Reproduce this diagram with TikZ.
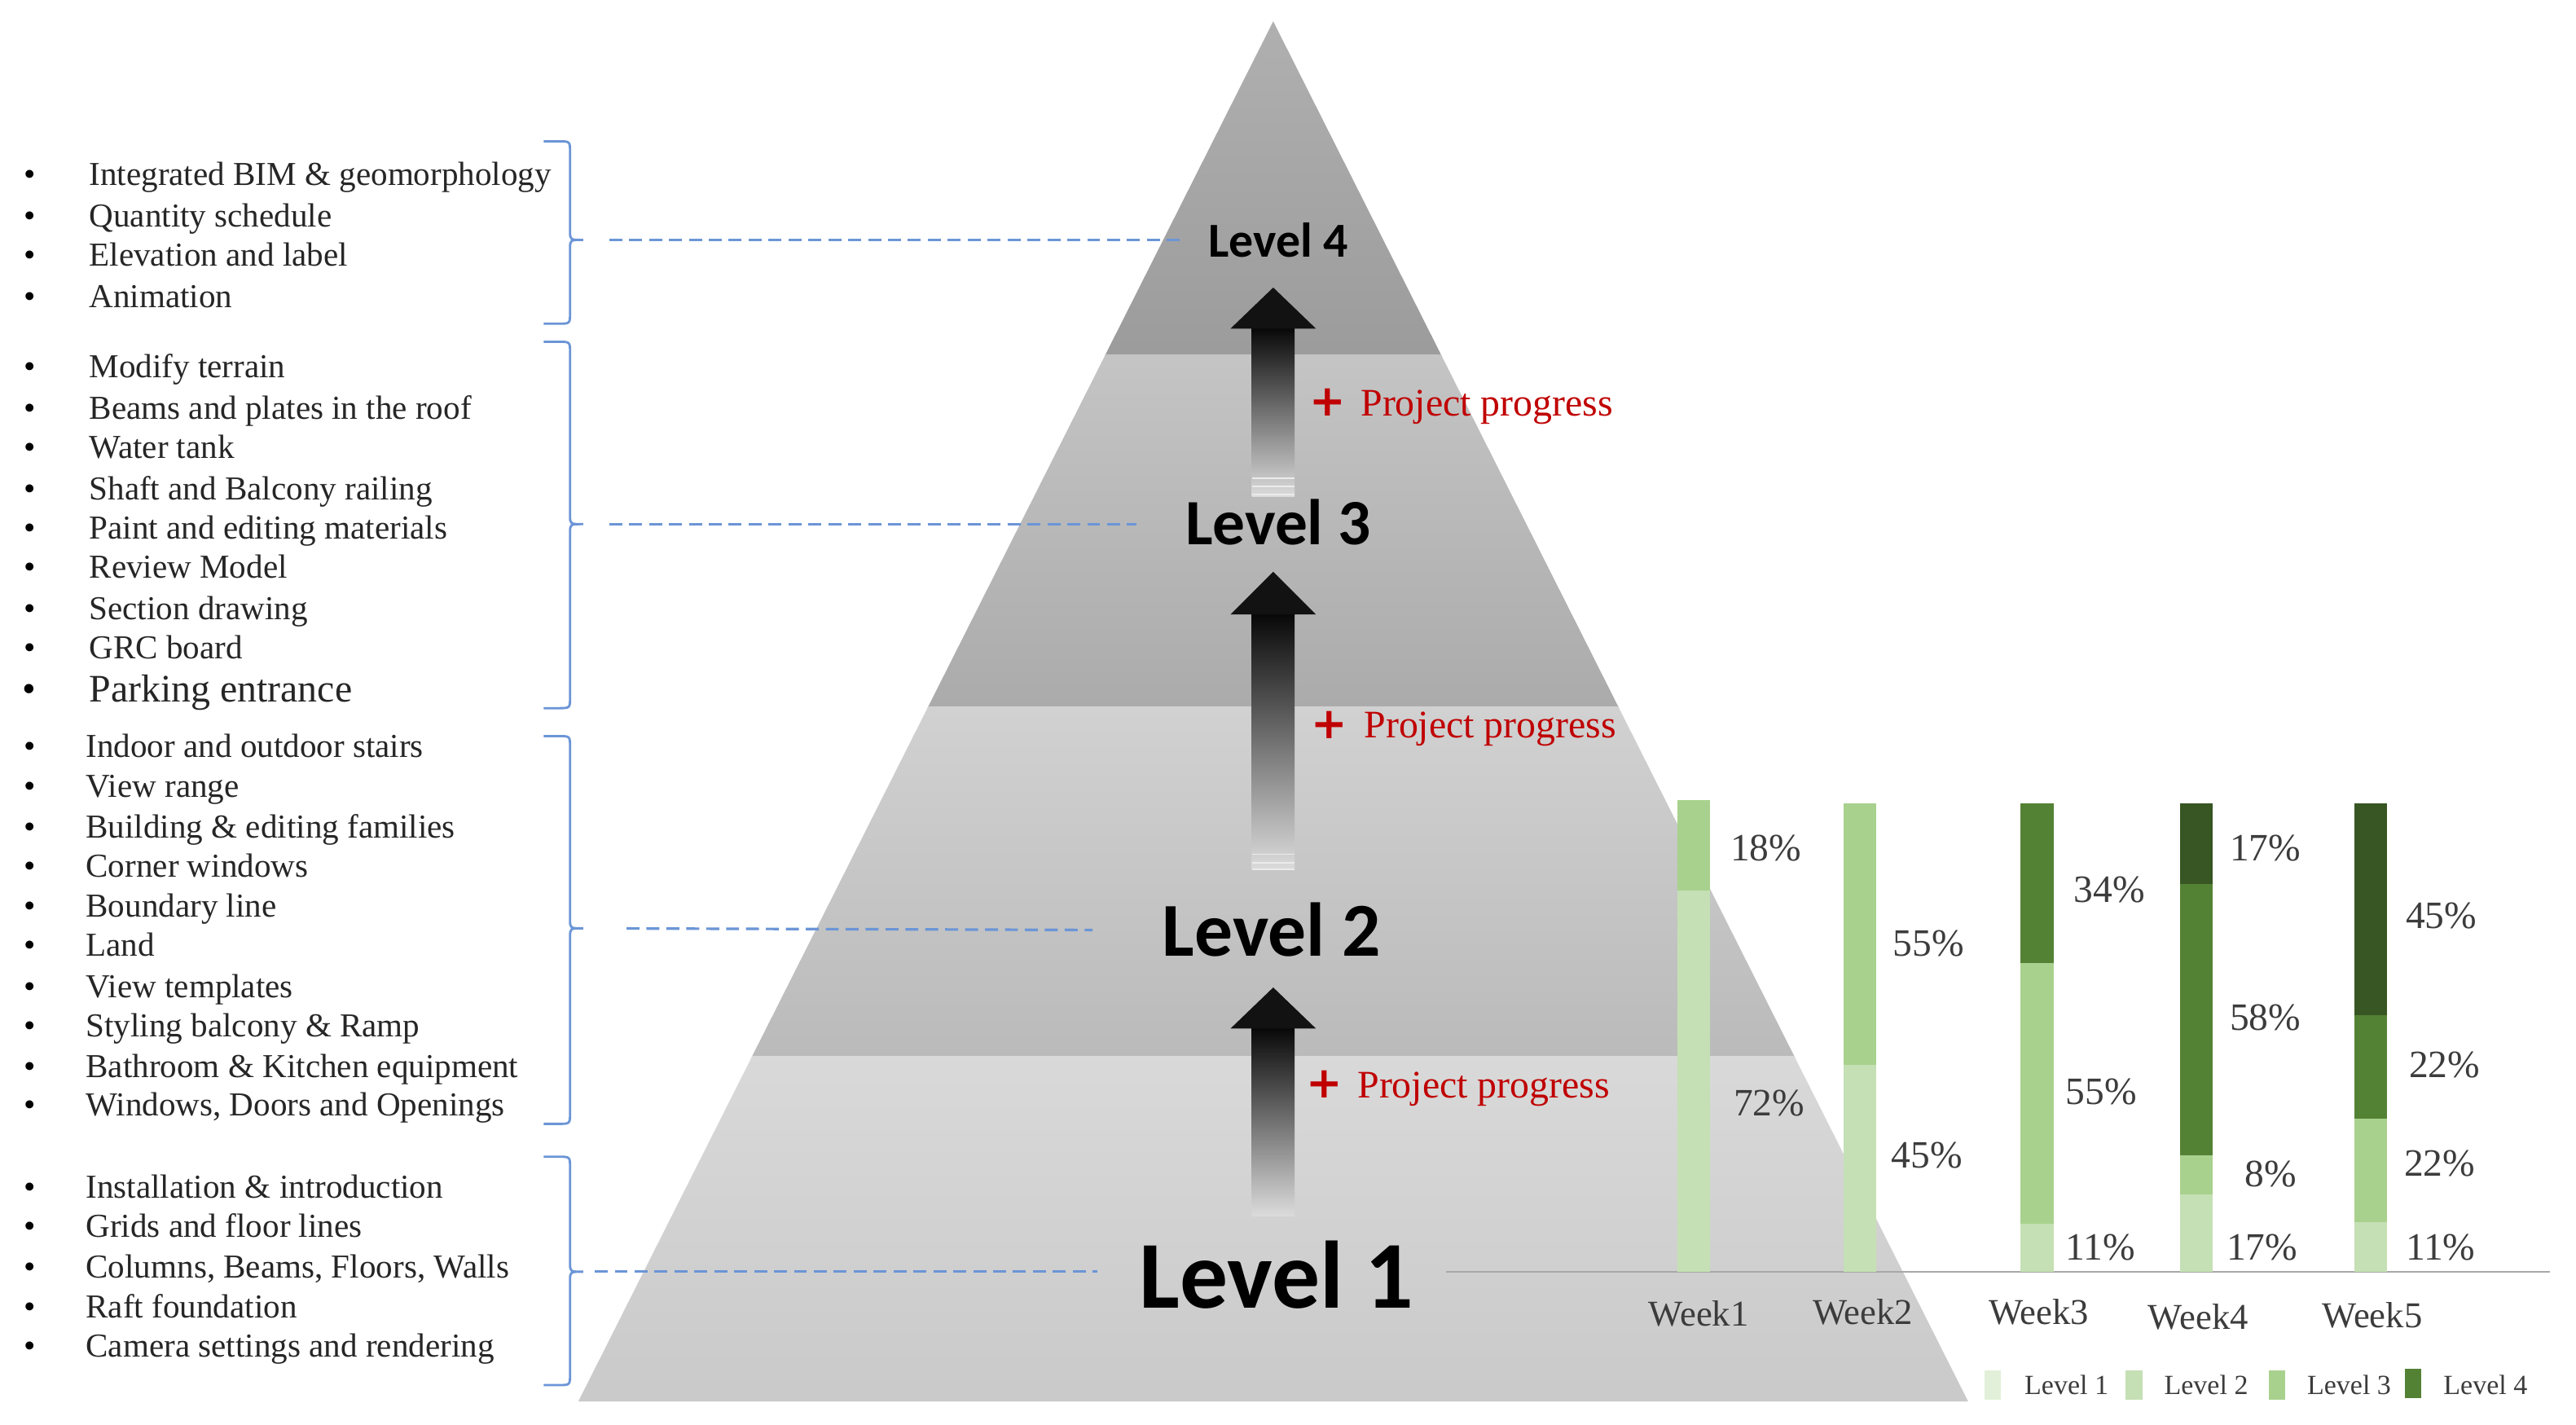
\documentclass[tikz,border=0pt]{standalone}
\usepackage{fontspec}
\setmainfont{Liberation Serif}
\newfontfamily\lvlfont{Carlito}
\newfontfamily\plusfont{DejaVu Sans}
\definecolor{g1}{HTML}{E2F0D9}
\definecolor{g2}{HTML}{C5E0B4}
\definecolor{g3}{HTML}{A9D18E}
\definecolor{g4}{HTML}{548235}
\definecolor{g5}{HTML}{375623}
\definecolor{bracecol}{HTML}{6B95D6}
\definecolor{pred}{HTML}{C00000}
\definecolor{chtxt}{HTML}{3C3C3C}
\definecolor{axisgray}{HTML}{A8A8A8}
\begin{document}
\begin{tikzpicture}[x=0.02cm,y=-0.02cm,
  item/.style={anchor=base west,inner sep=0pt,font=\fontsize{11.6}{14}\selectfont,text=black!85},
  bul/.style={anchor=base,inner sep=0pt,font=\fontsize{11.6}{14}\selectfont},
  lvl/.style={inner sep=0pt,text=black},
  pp/.style={anchor=base west,inner sep=0pt,text=pred,font=\fontsize{13.5}{16}\selectfont},
  plus/.style={inner sep=0pt,text=pred,font=\plusfont\bfseries\fontsize{15}{16}\selectfont},
  pct/.style={anchor=base west,inner sep=0pt,text=chtxt,font=\fontsize{13.4}{16}\selectfont},
  wk/.style={anchor=base,inner sep=0pt,text=chtxt,font=\fontsize{12.6}{15}\selectfont},
  leg/.style={anchor=base west,inner sep=0pt,text=chtxt,font=\fontsize{9.6}{12}\selectfont},
  swatch/.style={draw=none,minimum width=5.7pt,minimum height=10pt,inner sep=0pt},
  bracepath/.style={draw=bracecol,line width=0.8pt},
  dashblue/.style={draw=bracecol,line width=0.9pt,dash pattern=on 4.5pt off 2.4pt}
]
\useasboundingbox (0,0) rectangle (1568,867);
\fill[white] (0,0) rectangle (1568,867);

% ---------------- pyramid ----------------
\begin{scope}
  \clip (775,13) -- (1198,853) -- (352,853) -- cycle;
  \shade[top color=black!31, bottom color=black!39] (340,10) rectangle (1210,216.5);
  \shade[top color=black!23, bottom color=black!33] (340,216) rectangle (1210,430.5);
  \shade[top color=black!18, bottom color=black!27] (340,430) rectangle (1210,643.5);
  \shade[top color=black!15, bottom color=black!21] (340,643) rectangle (1210,853);
\end{scope}

% ---------------- arrows ----------------
\foreach \tip/\base/\bot in {175/200/302, 348/374/529, 601/626/740}{
  \shade[top color=black!97, middle color=black!55, bottom color=black!14]
     (762,\base-0.5) rectangle (788,\bot);
  \fill[black!93] (749,\base) -- (775,\tip) -- (801,\base) -- cycle;
}
\foreach \yy in {291,296,301,520,525,529}{
  \draw[black!8, line width=0.45pt] (762,\yy) -- (788,\yy);
}

% ---------------- level labels ----------------
\node[lvl,font=\lvlfont\bfseries\fontsize{16.9}{18}\selectfont] (L4) at (778,146) {Level 4};
\node[lvl,font=\lvlfont\bfseries\fontsize{22.4}{24}\selectfont] (L3) at (778,318) {Level 3};
\node[lvl,font=\lvlfont\bfseries\fontsize{26.4}{28}\selectfont] (L2) at (774,566) {Level 2};
\node[lvl,font=\lvlfont\bfseries\fontsize{33.2}{36}\selectfont] (L1) at (777,776) {Level 1};

% ---------------- project progress ----------------
\node[plus] (plus3) at (808,245) {+};
\node[pp] (pp3) at (828,253) {Project progress};
\node[plus] (plus2) at (809,441) {+};
\node[pp] (pp2) at (830,449) {Project progress};
\node[plus] (plus1) at (806,660) {+};
\node[pp] (pp1) at (826,668) {Project progress};

% ---------------- lists ----------------
\foreach \yy/\tt in {107/{Integrated BIM \& geomorphology},132/{Quantity schedule},156/{Elevation and label},181/{Animation},
  224/{Modify terrain},249/{Beams and plates in the roof},273/{Water tank},298/{Shaft and Balcony railing},322/{Paint and editing materials},346/{Review Model},371/{Section drawing},395/{GRC board}}{
  \node[bul] at (18,\yy+6) {\textbullet};
  \node[item] at (54,\yy+6) {\tt};
}
\node[bul,font=\fontsize{13.5}{16}\selectfont] (bp) at (18,427) {\textbullet};
\node[item,font=\fontsize{13.5}{16}\selectfont] (park) at (54,427) {Parking entrance};
\foreach \yy/\tt in {455/{Indoor and outdoor stairs},479/{View range},504/{Building \& editing families},528/{Corner windows},552/{Boundary line},576/{Land},601/{View templates},625/{Styling balcony \& Ramp},650/{Bathroom \& Kitchen equipment},673/{Windows, Doors and Openings},
  723/{Installation \& introduction},747/{Grids and floor lines},772/{Columns, Beams, Floors, Walls},796/{Raft foundation},820/{Camera settings and rendering}}{
  \node[bul] at (18,\yy+6) {\textbullet};
  \node[item] at (52,\yy+6) {\tt};
}

% ---------------- braces ----------------
\foreach \tp/\md/\bt/\nm in {86/146/197/4, 208/319/431/3, 448/565/684/2, 704/774/843/1}{
  \draw[bracepath] (331,\tp) -- (340,\tp) .. controls (347,\tp) .. (347,\tp+7)
     -- (347,\md-5) .. controls (347,\md) .. (355,\md)
     .. controls (347,\md) .. (347,\md+5)
     -- (347,\bt-7) .. controls (347,\bt) .. (340,\bt) -- (331,\bt);
  \coordinate (t\nm) at (355,\md);
}
\coordinate (e4) at (720,146);
\coordinate (e3) at (692,319);
\coordinate (e2) at (665,566);
\coordinate (e1) at (668,774);
\draw[dashblue,shorten <=9pt] (t4) -- (e4);
\draw[dashblue,shorten <=9pt] (t3) -- (e3);
\draw[dashblue,shorten <=15pt] (t2) -- (e2);
\draw[dashblue,shorten <=4pt] (t1) -- (e1);

% ---------------- chart ----------------
\coordinate (ax0) at (880,774);
\coordinate (ax1) at (1552,774);
\draw[axisgray,line width=0.7pt] (ax0) -- (ax1);
% week 1
\fill[g2] (1021,542) rectangle (1041,774);
\fill[g3] (1021,487) rectangle (1041,542);
% week 2
\fill[g2] (1122,648) rectangle (1142,774);
\fill[g3] (1122,489) rectangle (1142,648);
% week 3
\fill[g2] (1230,745) rectangle (1250,774);
\fill[g3] (1230,586) rectangle (1250,745);
\fill[g4] (1230,489) rectangle (1250,586);
% week 4
\fill[g2] (1327,727) rectangle (1347,774);
\fill[g3] (1327,703) rectangle (1347,727);
\fill[g4] (1327,538) rectangle (1347,703);
\fill[g5] (1327,489) rectangle (1347,538);
% week 5
\fill[g2] (1433,744) rectangle (1453,774);
\fill[g3] (1433,681) rectangle (1453,744);
\fill[g4] (1433,618) rectangle (1453,681);
\fill[g5] (1433,489) rectangle (1453,618);

% percentages
\node[pct] at (1053,524) {18\%};
\node[pct] at (1055,679) {72\%};
\node[pct] at (1152,582) {55\%};
\node[pct] at (1151,711) {45\%};
\node[pct] at (1262,549) {34\%};
\node[pct] at (1257,672) {55\%};
\node[pct] at (1257,767) {11\%};
\node[pct] at (1357,524) {17\%};
\node[pct] at (1357,627) {58\%};
\node[pct] at (1366,722) {8\%};
\node[pct] at (1355,767) {17\%};
\node[pct] at (1464,565) {45\%};
\node[pct] at (1466,656) {22\%};
\node[pct] at (1463,716) {22\%};
\node[pct] at (1464,767) {11\%};

% week labels
\node[wk] (w1) at (1034,807) {Week1};
\node[wk] (w2) at (1134,806) {Week2};
\node[wk] (w3) at (1241,806) {Week3};
\node[wk] (w4) at (1338,809) {Week4};
\node[wk] (w5) at (1444,808) {Week5};

% legend
\node[swatch,fill=g1] (s1) at (1213,843) {};
\node[leg] (l1) at (1232,848.5) {Level 1};
\node[swatch,fill=g2] (s2) at (1299,843) {};
\node[leg] (l2) at (1317,848.5) {Level 2};
\node[swatch,fill=g3] (s3) at (1386,843) {};
\node[leg] (l3) at (1404,848.5) {Level 3};
\node[swatch,fill=g4] (s4) at (1469,842) {};
\node[leg] (l4) at (1487,848.5) {Level 4};
\end{tikzpicture}
\end{document}
